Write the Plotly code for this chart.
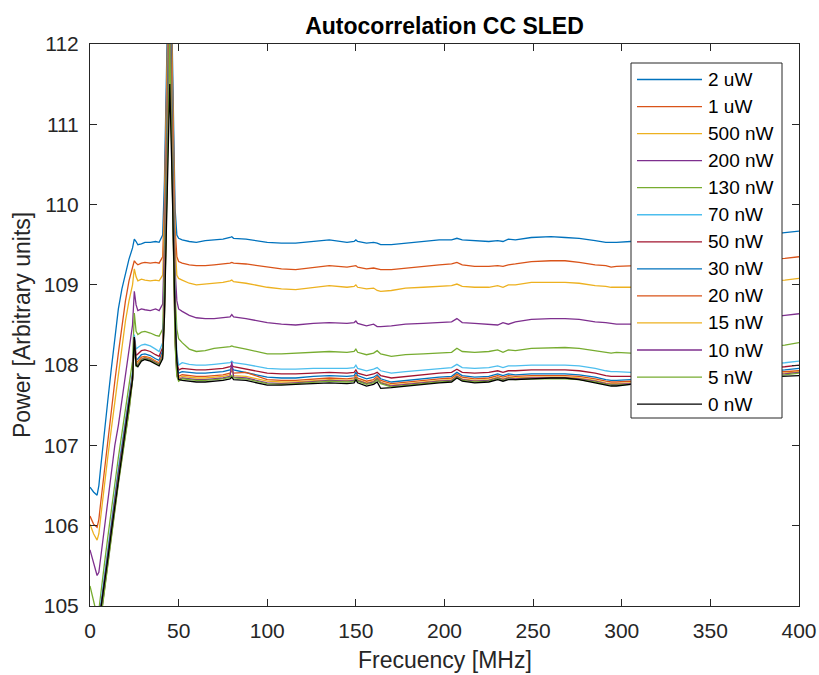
import plotly.graph_objects as go

# Frequency grid (MHz)
freq = [0, 2, 4, 5, 6, 8, 10, 12, 14, 16, 18, 20, 22, 24,
        25, 26, 27, 29, 31, 34, 37, 39, 41,
        42, 43, 44, 45, 46, 47, 48, 49, 50,
        52, 56, 60, 65, 70, 75, 79, 80, 81, 88,
        100, 108, 116, 126, 135, 145, 149, 150, 151, 156, 160, 162, 164, 170, 178,
        188, 197, 204, 207, 210, 217, 225, 230, 233, 236, 240, 249, 260,
        268, 276, 285, 291, 294, 297, 305, 320, 340, 360, 380, 392, 400]

labels = ["2 uW", "1 uW", "500 nW", "200 nW", "130 nW", "70 nW", "50 nW",
          "30 nW", "20 nW", "15 nW", "10 nW", "5 nW", "0 nW"]

p_2uW = [106.48, 106.42, 106.38, 106.5, 106.72, 107.1, 107.55, 107.95, 108.35, 108.7, 108.95, 109.15, 109.32, 109.46,
         109.57, 109.54, 109.5, 109.51, 109.53, 109.53, 109.54, 109.53, 109.62,
         110.3, 111.5, 112.7, 113.8, 112.5, 111.2, 109.95, 109.62, 109.58,
         109.56, 109.54, 109.53, 109.55, 109.56, 109.57, 109.59, 109.6, 109.58, 109.57,
         109.53, 109.52, 109.52, 109.54, 109.56, 109.53, 109.54, 109.56, 109.54, 109.52, 109.53, 109.52, 109.5, 109.5, 109.52,
         109.54, 109.56, 109.56, 109.58, 109.56, 109.55, 109.54, 109.55, 109.54, 109.57, 109.56, 109.59, 109.6,
         109.59, 109.58, 109.55, 109.53, 109.53, 109.53, 109.54, 109.55, 109.58, 109.6, 109.62, 109.65, 109.67]

p_1uW = [106.12, 106.02, 105.98, 106.08, 106.28, 106.68, 107.05, 107.45, 107.8, 108.15, 108.5, 108.8, 109.05, 109.24,
         109.3, 109.27, 109.25, 109.27, 109.28, 109.27, 109.28, 109.27, 109.35,
         110.0, 111.2, 112.4, 113.5, 112.2, 110.9, 109.7, 109.35, 109.29,
         109.27, 109.25, 109.24, 109.24, 109.25, 109.26, 109.27, 109.28, 109.27, 109.26,
         109.22, 109.2, 109.19, 109.22, 109.24, 109.22, 109.23, 109.24, 109.22, 109.2, 109.21, 109.2, 109.19, 109.19, 109.21,
         109.23, 109.25, 109.26, 109.28, 109.25, 109.23, 109.23, 109.24, 109.23, 109.25, 109.26, 109.29, 109.3,
         109.3, 109.28, 109.25, 109.24, 109.22, 109.23, 109.24, 109.25, 109.27, 109.29, 109.31, 109.33, 109.35]

p_500nW = [106.02, 105.9, 105.82, 105.9, 106.1, 106.5, 106.85, 107.2, 107.55, 107.9, 108.25, 108.55, 108.8, 109.0,
           109.2, 109.1, 109.05, 109.07, 109.06, 109.05, 109.06, 109.05, 109.12,
           109.8, 111.0, 112.2, 113.3, 112.0, 110.7, 109.5, 109.12, 109.08,
           109.06, 109.02, 109.0, 109.01, 109.02, 109.03, 109.05, 109.06, 109.04, 109.02,
           108.97, 108.95, 108.94, 108.97, 108.99, 108.97, 108.98, 109.0, 108.97, 108.95, 108.96, 108.93, 108.92, 108.93, 108.96,
           108.97, 108.98, 108.99, 109.01, 108.98, 108.97, 108.97, 108.99, 108.97, 109.0, 109.0, 109.03, 109.03,
           109.03, 109.02, 108.99, 108.98, 108.97, 108.97, 108.97, 108.98, 109.0, 109.02, 109.04, 109.06, 109.08]

p_200nW = [105.7, 105.55, 105.38, 105.42, 105.6, 105.95, 106.3, 106.65, 107.0, 107.25, 107.55, 107.85, 108.15, 108.5,
           108.92, 108.75, 108.68, 108.7, 108.69, 108.68, 108.7, 108.68, 108.76,
           109.5, 110.7, 111.9, 113.0, 111.7, 110.4, 109.2, 108.8, 108.7,
           108.67, 108.62, 108.59, 108.58, 108.58, 108.59, 108.6, 108.63, 108.6, 108.58,
           108.53, 108.51, 108.5, 108.52, 108.53, 108.52, 108.53, 108.55, 108.52, 108.49, 108.51, 108.48, 108.48, 108.49, 108.51,
           108.52, 108.53, 108.54, 108.58, 108.53, 108.52, 108.51, 108.5, 108.53, 108.51, 108.54, 108.57, 108.58,
           108.58, 108.57, 108.54, 108.53, 108.52, 108.51, 108.51, 108.52, 108.54, 108.56, 108.59, 108.62, 108.64]

p_130nW = [105.25, 105.05, 104.88, 104.95, 105.15, 105.5, 105.85, 106.2, 106.55, 106.85, 107.15, 107.45, 107.75, 108.05,
           108.65, 108.42, 108.38, 108.41, 108.42, 108.4, 108.37, 108.36, 108.45,
           109.2, 110.4, 111.6, 112.9, 111.5, 110.1, 108.9, 108.45, 108.33,
           108.28, 108.2, 108.17, 108.18, 108.21, 108.22, 108.23, 108.24, 108.23, 108.2,
           108.14, 108.14, 108.15, 108.16, 108.17, 108.16, 108.17, 108.2, 108.16, 108.13, 108.15, 108.18, 108.14, 108.11, 108.13,
           108.14, 108.15, 108.16, 108.21, 108.17, 108.16, 108.17, 108.19, 108.16, 108.19, 108.18, 108.21, 108.22,
           108.22, 108.21, 108.18, 108.16, 108.15, 108.16, 108.15, 108.16, 108.18, 108.2, 108.23, 108.25, 108.28]

p_70nW = [104.9, 104.75, 104.7, 104.82, 105.02, 105.37, 105.72, 106.07, 106.42, 106.72, 107.02, 107.32, 107.62, 107.92,
          108.38, 108.2, 108.22, 108.25, 108.26, 108.24, 108.2, 108.17, 108.28,
          108.9, 110.1, 111.4, 112.8, 111.4, 110.0, 108.7, 108.15, 108.0,
          108.03, 108.01, 108.0, 108.0, 108.01, 108.02, 108.03, 108.05, 108.03, 108.01,
          107.96, 107.95, 107.95, 107.96, 107.96, 107.96, 107.97, 108.0, 107.96, 107.93, 107.95, 107.97, 107.93, 107.9, 107.92,
          107.94, 107.96, 107.97, 108.01, 107.97, 107.96, 107.97, 107.99, 107.97, 107.99, 107.99, 108.0, 108.0,
          108.0, 107.99, 107.96, 107.93, 107.92, 107.92, 107.91, 107.92, 107.95, 107.98, 108.01, 108.03, 108.05]

p_50nW = [104.82, 104.68, 104.64, 104.76, 104.96, 105.31, 105.66, 106.01, 106.36, 106.66, 106.96, 107.26, 107.56, 107.88,
          108.35, 108.12, 108.14, 108.18, 108.19, 108.17, 108.13, 108.11, 108.22,
          108.85, 110.0, 111.3, 112.7, 111.3, 109.9, 108.6, 108.05, 107.94,
          107.96, 107.95, 107.94, 107.94, 107.95, 107.96, 107.98, 108.0, 107.98, 107.95,
          107.9, 107.89, 107.89, 107.9, 107.91, 107.9, 107.91, 107.94, 107.9, 107.87, 107.89, 107.91, 107.87, 107.84, 107.86,
          107.88, 107.9, 107.91, 107.95, 107.91, 107.9, 107.91, 107.93, 107.91, 107.93, 107.93, 107.94, 107.94,
          107.94, 107.93, 107.9, 107.87, 107.86, 107.86, 107.86, 107.87, 107.9, 107.93, 107.96, 107.98, 108.0]

p_30nW = [104.76, 104.63, 104.6, 104.72, 104.92, 105.27, 105.62, 105.97, 106.32, 106.62, 106.92, 107.22, 107.52, 107.86,
          108.33, 108.06, 108.08, 108.13, 108.14, 108.12, 108.08, 108.06, 108.18,
          108.8, 109.95, 111.2, 112.6, 111.2, 109.8, 108.5, 108.0, 107.9,
          107.92, 107.91, 107.9, 107.9, 107.91, 107.92, 107.94, 107.97, 107.94, 107.91,
          107.85, 107.84, 107.84, 107.86, 107.87, 107.86, 107.87, 107.91, 107.87, 107.83, 107.85, 107.88, 107.83, 107.79, 107.81,
          107.83, 107.85, 107.86, 107.91, 107.87, 107.85, 107.86, 107.89, 107.87, 107.89, 107.88, 107.89, 107.89,
          107.89, 107.88, 107.85, 107.82, 107.81, 107.81, 107.82, 107.83, 107.86, 107.89, 107.92, 107.94, 107.96]

p_20nW = [104.72, 104.6, 104.57, 104.68, 104.88, 105.23, 105.58, 105.93, 106.28, 106.58, 106.88, 107.18, 107.48, 107.84,
          108.32, 108.03, 108.05, 108.1, 108.11, 108.09, 108.05, 108.03, 108.15,
          108.75, 109.9, 111.1, 112.45, 111.1, 109.7, 108.4, 107.95, 107.86,
          107.88, 107.87, 107.86, 107.86, 107.87, 107.88, 107.9, 107.93, 107.9, 107.91,
          107.82, 107.81, 107.81, 107.83, 107.84, 107.83, 107.84, 107.88, 107.84, 107.8, 107.82, 107.86, 107.81, 107.77, 107.79,
          107.81, 107.83, 107.84, 107.89, 107.85, 107.83, 107.84, 107.87, 107.85, 107.87, 107.86, 107.87, 107.87,
          107.87, 107.86, 107.83, 107.8, 107.79, 107.79, 107.8, 107.81, 107.84, 107.87, 107.9, 107.92, 107.93]

p_15nW = [104.7, 104.58, 104.55, 104.66, 104.86, 105.21, 105.56, 105.91, 106.26, 106.56, 106.86, 107.16, 107.46, 107.83,
          108.31, 108.01, 108.03, 108.08, 108.1, 108.08, 108.04, 108.02, 108.13,
          108.7, 109.85, 111.0, 112.3, 111.0, 109.6, 108.35, 107.9, 107.84,
          107.86, 107.85, 107.84, 107.84, 107.85, 107.86, 107.88, 107.98, 107.87, 107.86,
          107.8, 107.79, 107.79, 107.81, 107.82, 107.81, 107.82, 107.86, 107.82, 107.78, 107.8, 107.84, 107.79, 107.75, 107.77,
          107.79, 107.81, 107.82, 107.87, 107.83, 107.81, 107.82, 107.85, 107.83, 107.85, 107.84, 107.85, 107.85,
          107.85, 107.84, 107.81, 107.78, 107.77, 107.77, 107.78, 107.79, 107.82, 107.85, 107.88, 107.9, 107.92]

p_10nW = [104.68, 104.56, 104.53, 104.64, 104.84, 105.19, 105.54, 105.89, 106.24, 106.54, 106.84, 107.14, 107.44, 107.82,
          108.3, 107.99, 108.01, 108.07, 108.09, 108.07, 108.03, 108.01, 108.12,
          108.65, 109.8, 110.9, 112.2, 110.9, 109.5, 108.3, 107.88, 107.82,
          107.84, 107.83, 107.82, 107.82, 107.83, 107.84, 107.86, 108.04, 107.85, 107.84,
          107.78, 107.77, 107.78, 107.8, 107.81, 107.8, 107.81, 107.85, 107.81, 107.77, 107.79, 107.83, 107.78, 107.74, 107.76,
          107.78, 107.8, 107.81, 107.86, 107.82, 107.8, 107.81, 107.84, 107.82, 107.84, 107.83, 107.84, 107.84,
          107.84, 107.83, 107.8, 107.77, 107.76, 107.76, 107.77, 107.78, 107.81, 107.84, 107.87, 107.89, 107.91]

p_5nW = [104.66, 104.54, 104.52, 104.62, 104.82, 105.17, 105.52, 105.87, 106.22, 106.52, 106.82, 107.12, 107.42, 107.81,
         108.3, 107.98, 108.0, 108.06, 108.08, 108.06, 108.02, 108.0, 108.1,
         108.6, 109.7, 110.8, 112.05, 110.8, 109.4, 108.25, 107.86, 107.8,
         107.83, 107.82, 107.81, 107.81, 107.82, 107.83, 107.85, 107.87, 107.84, 107.83,
         107.77, 107.76, 107.77, 107.79, 107.8, 107.79, 107.8, 107.84, 107.8, 107.76, 107.78, 107.82, 107.77, 107.73, 107.75,
         107.77, 107.79, 107.8, 107.85, 107.81, 107.79, 107.8, 107.83, 107.81, 107.83, 107.82, 107.83, 107.83,
         107.83, 107.82, 107.79, 107.76, 107.75, 107.75, 107.76, 107.77, 107.8, 107.83, 107.86, 107.88, 107.9]

p_0nW = [104.6, 104.5, 104.5, 104.62, 104.95, 105.25, 105.58, 105.92, 106.25, 106.58, 106.9, 107.22, 107.52, 107.82,
         108.35, 108.0, 107.98, 108.05, 108.07, 108.05, 108.01, 107.99, 108.08,
         108.6, 109.6, 110.6, 111.5, 110.6, 109.5, 108.6, 108.05, 107.82,
         107.81, 107.8, 107.79, 107.79, 107.8, 107.81, 107.83, 107.85, 107.82, 107.81,
         107.75, 107.75, 107.76, 107.77, 107.78, 107.77, 107.78, 107.82, 107.78, 107.74, 107.76, 107.79, 107.71, 107.72, 107.74,
         107.76, 107.78, 107.79, 107.84, 107.8, 107.78, 107.79, 107.82, 107.8, 107.82, 107.82, 107.83, 107.84,
         107.84, 107.82, 107.78, 107.75, 107.74, 107.74, 107.76, 107.77, 107.8, 107.83, 107.85, 107.86, 107.87]

series = [p_2uW, p_1uW, p_500nW, p_200nW, p_130nW, p_70nW, p_50nW,
          p_30nW, p_20nW, p_15nW, p_10nW, p_5nW, p_0nW]

colors = ["#0072BD", "#D95319", "#EDB120", "#7E2F8E", "#77AC30", "#4DBEEE", "#A2142F",
          "#0072BD", "#D95319", "#EDB120", "#7E2F8E", "#77AC30", "#000000"]

FONT = "Liberation Sans, Arial, Helvetica, sans-serif"
AX = "#262626"

fig = go.Figure()
for name, vals, col in zip(labels, series, colors):
    fig.add_trace(go.Scatter(x=freq, y=vals, mode="lines", name=name,
                             line=dict(color=col, width=1.3), showlegend=False))

# Plot-area geometry in pixels (for the MATLAB-style legend box)
W, H = 819, 675
L, R, T, B = 90, 20, 44, 69
pw, ph = W - L - R, H - T - B

def px(x):
    return (x - L) / pw

def py(y):
    return (H - B - y) / ph

box_l, box_r, box_t, box_b = 631, 782, 63, 418
shapes = [dict(type="rect", xref="paper", yref="paper",
               x0=px(box_l), x1=px(box_r), y0=py(box_b), y1=py(box_t),
               fillcolor="white", line=dict(color=AX, width=1), layer="above")]
annotations = []
row0, step = 79.5, 27.05
for i, (name, col) in enumerate(zip(labels, colors)):
    yy = py(row0 + step * i)
    shapes.append(dict(type="line", xref="paper", yref="paper",
                       x0=px(637), x1=px(702), y0=yy, y1=yy,
                       line=dict(color=col, width=1.3), layer="above"))
    annotations.append(dict(xref="paper", yref="paper", x=px(706), y=yy,
                            text=name, showarrow=False, xanchor="left", yanchor="middle",
                            font=dict(family=FONT, size=19, color="#000000")))

# axis titles as annotations for exact placement
annotations.append(dict(xref="paper", yref="paper", x=0.5, y=py(660),
                        text="Frecuency [MHz]", showarrow=False,
                        xanchor="center", yanchor="middle",
                        font=dict(family=FONT, size=23, color=AX)))
annotations.append(dict(xref="paper", yref="paper", x=px(22), y=py(325),
                        text="Power [Arbitrary units]", showarrow=False, textangle=-90,
                        xanchor="center", yanchor="middle",
                        font=dict(family=FONT, size=23, color=AX)))

fig.update_layout(
    width=W, height=H,
    margin=dict(l=L, r=R, t=T, b=B, autoexpand=False),
    paper_bgcolor="white", plot_bgcolor="white",
    font=dict(family=FONT, color=AX),
    title=dict(text="<b>Autocorrelation CC SLED</b>", x=0.5, xref="paper",
               y=1 - 26 / H, yref="container", yanchor="middle", xanchor="center",
               automargin=False,
               font=dict(family=FONT, size=23, color="#000000")),
    shapes=shapes, annotations=annotations,
    showlegend=False,
)
fig.update_xaxes(range=[0, 400], tickvals=list(range(0, 401, 50)), automargin=False,
                 ticks="inside", ticklen=7, tickcolor=AX, mirror="allticks",
                 showline=True, linecolor=AX, linewidth=1, showgrid=False, zeroline=False,
                 tickfont=dict(family=FONT, size=21, color=AX), ticklabelstandoff=6)
fig.update_yaxes(range=[105, 112], tickvals=list(range(105, 113)), automargin=False,
                 ticks="inside", ticklen=7, tickcolor=AX, mirror="allticks",
                 showline=True, linecolor=AX, linewidth=1, showgrid=False, zeroline=False,
                 tickfont=dict(family=FONT, size=21, color=AX), ticklabelstandoff=6)

fig.write_html("out.html")
